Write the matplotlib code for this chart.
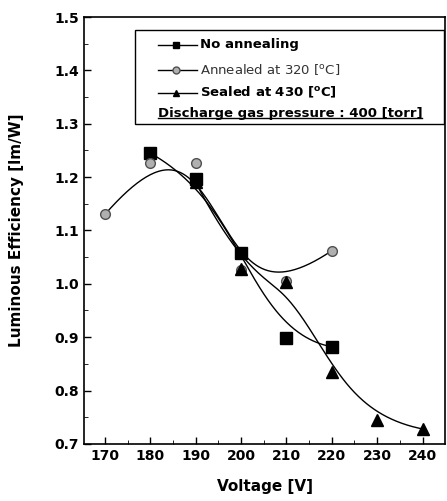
import numpy as np
import matplotlib.pyplot as plt
from matplotlib.lines import Line2D
from matplotlib.patches import Rectangle

# data
v_none = [180, 190, 200, 210, 220]
eff_none = [1.245, 1.197, 1.058, 0.898, 0.882]

v_ann = [170, 180, 190, 200, 210, 220]
eff_ann = [1.130, 1.227, 1.227, 1.025, 1.005, 1.062]

v_seal = [190, 200, 210, 220, 230, 240]
eff_seal = [1.190, 1.028, 1.003, 0.835, 0.745, 0.728]

labels = ["No annealing", "Annealed at 320 [$^{\\mathregular{o}}$C]", "Sealed at 430 [$^{\\mathregular{o}}$C]"]
note = "Discharge gas pressure : 400 [torr]"


def bspline(x, y, n=200):
    # clamped uniform cubic B-spline with the data as control points
    P = np.column_stack([x, y]).astype(float)
    k = 3
    m = len(P)
    knots = np.concatenate([[0] * k, np.linspace(0, 1, m - k + 1), [1] * k])
    t = np.linspace(0, 1 - 1e-9, n)

    def N(i, p, t):
        if p == 0:
            return ((knots[i] <= t) & (t < knots[i + 1])).astype(float)
        a = 0.0
        d1 = knots[i + p] - knots[i]
        d2 = knots[i + p + 1] - knots[i + 1]
        if d1 > 0:
            a = a + (t - knots[i]) / d1 * N(i, p - 1, t)
        if d2 > 0:
            a = a + (knots[i + p + 1] - t) / d2 * N(i + 1, p - 1, t)
        return a

    B = np.array([N(i, k, t) for i in range(m)])
    out = B.T @ P
    out = np.vstack([out, P[-1]])
    return out[:, 0], out[:, 1]


plt.rcParams['font.family'] = 'DejaVu Sans'
fig = plt.figure(figsize=(4.47, 5.01), dpi=100)
ax = fig.add_axes([0.188, 0.114, 0.808, 0.852])

for xs, ys in [(v_none, eff_none), (v_ann, eff_ann), (v_seal, eff_seal)]:
    sx, sy = bspline(xs, ys)
    ax.plot(sx, sy, color='black', lw=1.0, zorder=2)

ax.plot(v_none, eff_none, ls='none', marker='s', ms=8, color='black', zorder=3)
ax.plot(v_ann, eff_ann, ls='none', marker='o', ms=7, mfc='#b0b0b0', mec='#505050', mew=1, zorder=3)
ax.plot(v_seal, eff_seal, ls='none', marker='^', ms=8, color='black', zorder=4)

ax.set_xlim(165.4, 245)
ax.set_ylim(0.7, 1.5)
ax.set_xticks(np.arange(170, 241, 10))
ax.set_xticks(np.arange(170, 245, 5), minor=True)
ax.set_yticks(np.arange(0.7, 1.51, 0.1))
ax.set_yticks(np.arange(0.7, 1.5, 0.05), minor=True)
ax.yaxis.set_major_formatter(plt.FormatStrFormatter('%.1f'))
ax.tick_params(direction='in', length=5, width=1, labelsize=10)
ax.tick_params(which='minor', direction='in', length=3)
for lab in ax.get_xticklabels() + ax.get_yticklabels():
    lab.set_fontweight('bold')
for s in ax.spines.values():
    s.set_linewidth(1.2)

ax.set_xlabel("Voltage [V]", fontsize=11, fontweight='bold', labelpad=12)
ax.set_ylabel("Luminous Efficiency [lm/W]", fontsize=11, fontweight='bold', labelpad=22)

# legend box drawn by hand (last line is an underlined note)
ax.add_patch(Rectangle((0.141, 0.749), 0.855, 0.221, transform=ax.transAxes,
                       fill=False, lw=1.0, ec='black', zorder=5))
rows = [0.935, 0.877, 0.823]
markers = [dict(marker='s', ms=5, mfc='black', mec='black'),
           dict(marker='o', ms=5, mfc='#b0b0b0', mec='#505050'),
           dict(marker='^', ms=5, mfc='black', mec='black')]
weights = ['bold', 'normal', 'bold']
for r, mk, lab, w in zip(rows, markers, labels, weights):
    ax.add_line(Line2D([0.204, 0.314], [r, r], transform=ax.transAxes,
                       lw=1.0, color='black'))
    ax.add_line(Line2D([0.255], [r], transform=ax.transAxes, ls='none', **mk))
    ax.text(0.322, r, lab, transform=ax.transAxes, fontsize=9.5, fontweight=w,
            va='center', color='black' if w == 'bold' else '#333333')
t = ax.text(0.204, 0.775, note, transform=ax.transAxes, fontsize=9.5,
            fontweight='bold', va='center')
fig.canvas.draw()
bb = t.get_window_extent().transformed(ax.transAxes.inverted())
ax.add_line(Line2D([bb.x0, bb.x1], [bb.y0 + 0.004, bb.y0 + 0.004],
                   transform=ax.transAxes, color='black', lw=1.0))

fig.savefig("out.png", dpi=100)
